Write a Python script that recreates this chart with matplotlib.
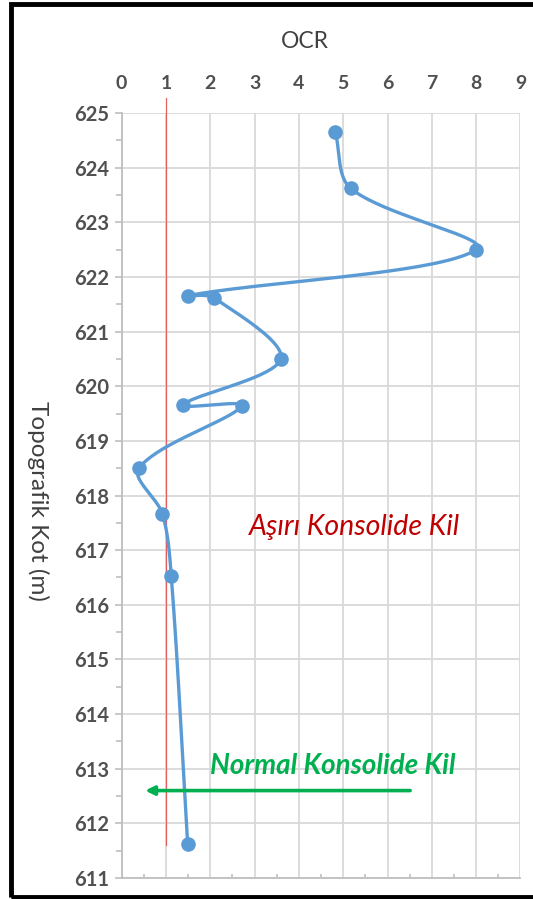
import numpy as np
import matplotlib
matplotlib.use("Agg")
import matplotlib.pyplot as plt
from matplotlib.patches import Rectangle

# OCR profile versus elevation
ocr = [4.82, 5.17, 8.00, 1.50, 2.08, 3.59, 1.39, 2.71, 0.39, 0.92, 1.12, 1.49]
kot = [624.65, 623.62, 622.50, 621.66, 621.62, 620.50, 619.66, 619.64,
       618.50, 617.66, 616.52, 611.62]

x_ticks = list(range(0, 10))
y_ticks = list(range(611, 626))
ocr_threshold = 1.0
threshold_span = (611.6, 625.27)

title = "OCR"
ylabel = "Topografik Kot (m)"
label_over = "Aşırı Konsolide Kil"
label_normal = "Normal Konsolide Kil"

BLUE = "#5B9BD5"
GRID = "#D9D9D9"
AXIS = "#BFBFBF"
TEXT = "#404040"
TICK = "#505050"
RED_TXT = "#C00000"
GREEN = "#00B050"

plt.rcParams["font.family"] = ["Lato", "DejaVu Sans"]


def smooth(xs, ys, sx=1.0, sy=1.0, n=40):
    """Bezier spline through the points with chord-scaled tangents,
    computed in screen-proportional units (sx, sy per data unit)."""
    P = np.column_stack([np.asarray(xs) * sx, np.asarray(ys) * sy]).astype(float)
    P = np.vstack([P[0], P, P[-1]])
    out = [P[1]]
    t = np.linspace(0, 1, n)[1:, None]
    for i in range(1, len(P) - 2):
        p0, p1, p2, p3 = P[i - 1], P[i], P[i + 1], P[i + 2]
        d01 = np.linalg.norm(p1 - p0)
        d12 = np.linalg.norm(p2 - p1)
        d23 = np.linalg.norm(p3 - p2)
        b1 = p1 + (p2 - p0) * (d12 / max(d01 + d12, 1e-9)) / 3.0
        b2 = p2 - (p3 - p1) * (d12 / max(d12 + d23, 1e-9)) / 3.0
        seg = ((1 - t) ** 3) * p1 + 3 * ((1 - t) ** 2) * t * b1 \
            + 3 * (1 - t) * t ** 2 * b2 + t ** 3 * p2
        out.extend(seg)
    out = np.array(out)
    return out[:, 0] / sx, out[:, 1] / sy


fig = plt.figure(figsize=(5.33, 8.99), dpi=100)
ax = fig.add_axes([0.2283, 0.02336, 0.7482, 0.8509])

ax.set_xlim(x_ticks[0], x_ticks[-1])
ax.set_ylim(y_ticks[0], y_ticks[-1])
ax.set_xticks(x_ticks)
ax.set_yticks(y_ticks)
ax.set_xticks(np.arange(0.5, 9, 1.0), minor=True)
ax.set_yticks(np.arange(611.5, 625, 1.0), minor=True)

ax.grid(True, which="major", color=GRID, lw=1.3, zorder=0)
ax.set_axisbelow(True)

for side in ("top", "right"):
    ax.spines[side].set_visible(False)
for side in ("left", "bottom"):
    ax.spines[side].set_color(AXIS)
    ax.spines[side].set_linewidth(1.3)

ax.tick_params(axis="x", which="major", top=False, bottom=False,
               labeltop=True, labelbottom=False, pad=11.5,
               labelsize=14, labelcolor=TICK)
ax.tick_params(axis="x", which="minor", bottom=True, top=False,
               direction="in", length=3, color=AXIS, width=1.2)
ax.tick_params(axis="y", which="major", direction="out", length=5,
               color=AXIS, width=1.2, labelsize=14.5, labelcolor=TICK, pad=4)
ax.tick_params(axis="y", which="minor", direction="out", length=4,
               color=AXIS, width=1.2)
for lab in ax.get_xticklabels() + ax.get_yticklabels():
    lab.set_fontweight("bold")

# threshold line OCR = 1
ax.plot([ocr_threshold, ocr_threshold], threshold_span, color="#E06060",
        lw=0.9, zorder=2, clip_on=False)

# screen scale of one data unit, used for the smoothing
px_x = fig.get_figwidth() * fig.dpi * ax.get_position().width / (x_ticks[-1] - x_ticks[0])
px_y = fig.get_figheight() * fig.dpi * ax.get_position().height / (y_ticks[-1] - y_ticks[0])
cx, cy = smooth(ocr, kot, px_x, px_y)
ax.plot(cx, cy, color=BLUE, lw=2.4, zorder=3, solid_capstyle="round")
ax.plot(ocr, kot, "o", color=BLUE, ms=9.5, zorder=4)

ax.text(5.26, 617.42, label_over, color=RED_TXT, fontsize=20.5,
        style="italic", ha="center", va="center", zorder=5)
ax.text(4.77, 613.05, label_normal, color=GREEN, fontsize=20,
        style="italic", fontweight="bold", ha="center", va="center", zorder=5)
ax.annotate("", xy=(0.53, 612.6), xytext=(6.51, 612.6),
            arrowprops=dict(arrowstyle="-|>", color=GREEN, lw=2.6,
                            mutation_scale=13, shrinkA=0, shrinkB=0),
            zorder=5)

fig.text(305 / 533, 1 - 42 / 899, title, color=TEXT, fontsize=16.5,
         ha="center", va="center")
fig.text(38 / 533, 1 - 501 / 899, ylabel, color=TEXT, fontsize=17.5,
         rotation=-90, ha="center", va="center")

# frame around the chart
fig.patches.append(Rectangle((11 / 533, 2 / 899), 1.2, 893 / 899,
                             transform=fig.transFigure, fill=False,
                             ec="black", lw=3.5, zorder=10))

fig.savefig("out.png", dpi=100)
